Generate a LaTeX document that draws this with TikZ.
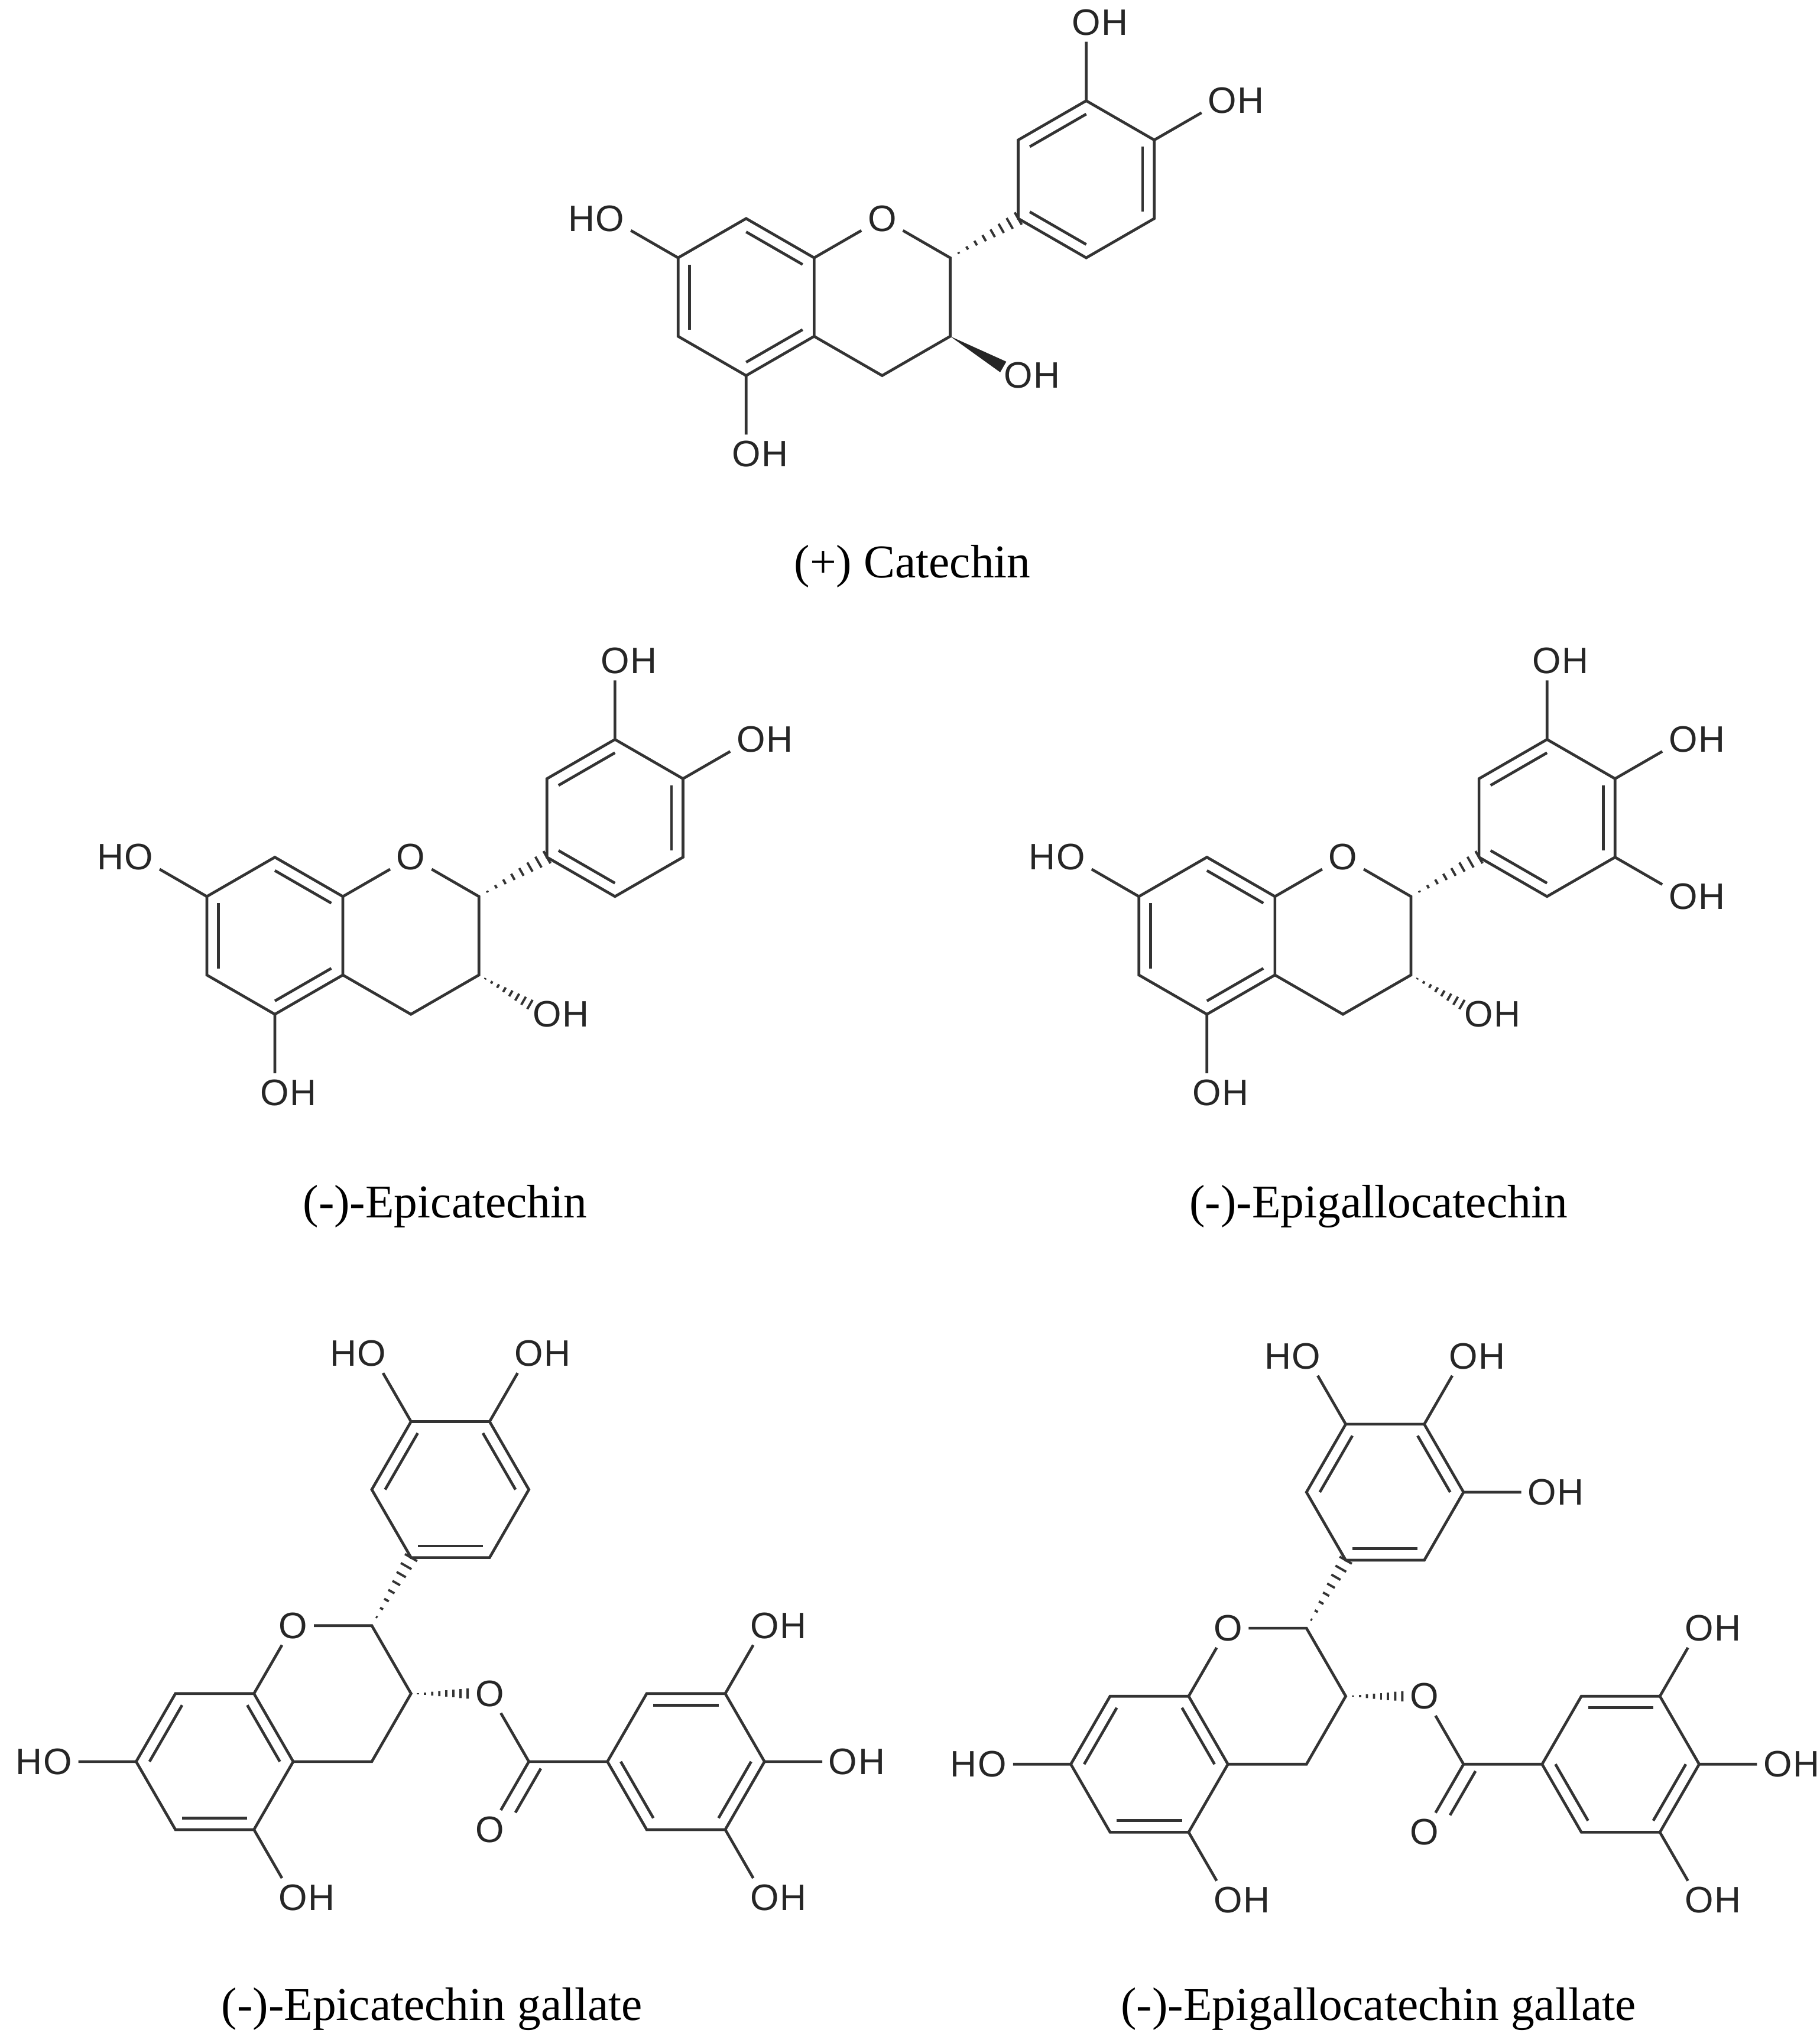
\documentclass[tikz,border=0pt]{standalone}
\usepackage{fontspec}
\setmainfont{Liberation Serif}
\newfontfamily\atomfont{Liberation Sans}
\usetikzlibrary{calc,positioning}

\tikzset{
    bond/.style={line width=0.6pt, black!80},
    atom/.style={font=\atomfont\fontsize{8}{9}\selectfont, inner sep=1.2pt, black!85},
    oh/.style={atom, label={[atom,label distance=-2.6pt]east:H}},
    ho/.style={atom, label={[atom,label distance=-2.6pt]west:H}},
    molname/.style={font=\fontsize{10.2}{12}\selectfont}
}

% inner line of a ring double bond
\newcommand\dbl[3]{\draw[bond] ($(#1)!.17!(#3)$) -- ($(#2)!.17!(#3)$);}
% hashed bond from #1 to #2, ending at fraction #3
\newcommand\hashbond[3]{%
  \foreach \k in {1,...,8}{%
    \path ($(#1)!{\k*#3/8}!(#2)$) coordinate (hp);
    \draw[bond,line width=0.5pt] ($(hp)!0.09!90:(#1)$) -- ($(hp)!0.09!-90:(#1)$);
  }}
% solid wedge from #1 to #2, ending at fraction #3
\newcommand\wedgebond[3]{%
  \path ($(#1)!#3!(#2)$) coordinate (we);
  \fill[black!85] (#1) -- ($(we)!0.1!90:(#1)$) -- ($(we)!0.1!-90:(#1)$) -- cycle;}
% flavan-3-ol skeleton, #1 = rotation
\newcommand\flavan[1]{%
  \coordinate (c7) at (0,0);
  \coordinate (c8) at ($(c7)+({30+#1}:60)$);
  \coordinate (c8a) at ($(c8)+({-30+#1}:60)$);
  \coordinate (c4a) at ($(c8a)+({-90+#1}:60)$);
  \coordinate (c5) at ($(c4a)+({-150+#1}:60)$);
  \coordinate (c6) at ($(c5)+({150+#1}:60)$);
  \node[atom] (o1) at ($(c8a)+({30+#1}:60)$) {O};
  \coordinate (c2) at ($(c8a)+({30+#1}:60)+({-30+#1}:60)$);
  \coordinate (c3) at ($(c2)+({-90+#1}:60)$);
  \coordinate (c4) at ($(c3)+({-150+#1}:60)$);
  \coordinate (b1) at ($(c2)+({30+#1}:60)$);
  \coordinate (b2) at ($(b1)+({90+#1}:60)$);
  \coordinate (b3) at ($(b2)+({30+#1}:60)$);
  \coordinate (b4) at ($(b3)+({-30+#1}:60)$);
  \coordinate (b5) at ($(b4)+({-90+#1}:60)$);
  \coordinate (b6) at ($(b5)+({-150+#1}:60)$);
  \coordinate (ca) at ($(c7)!.5!(c4a)$);
  \coordinate (cb) at ($(b1)!.5!(b4)$);
  \draw[bond] (c7) -- (c8) -- (c8a) -- (c4a) -- (c5) -- (c6) -- cycle;
  \draw[bond] (c8a) -- (o1) -- (c2) -- (c3) -- (c4) -- (c4a);
  \draw[bond] (b1) -- (b2) -- (b3) -- (b4) -- (b5) -- (b6) -- cycle;
  \hashbond{c2}{b1}{1}
  \dbl{b2}{b3}{cb}\dbl{b4}{b5}{cb}\dbl{b6}{b1}{cb}
}

\begin{document}
\begin{tikzpicture}[x=0.01cm,y=0.01cm]
\useasboundingbox (0,0) rectangle (1390,1561);

% (+) catechin
\begin{scope}[shift={(518,1364)}]
  \flavan{0}
  \dbl{c6}{c7}{ca}\dbl{c8}{c8a}{ca}\dbl{c4a}{c5}{ca}
  \node[ho] (o7) at ($(c7)+(150:60)$) {O};
  \node[oh] (o5) at ($(c5)+(-90:60)$) {O};
  \node[oh] (o3) at ($(c3)+(-30:60)$) {O};
  \node[oh] (o3b) at ($(b3)+(90:60)$) {O};
  \node[oh] (o4b) at ($(b4)+(30:60)$) {O};
  \draw[bond] (c7) -- (o7) (c5) -- (o5) (b3) -- (o3b) (b4) -- (o4b);
  \wedgebond{c3}{o3}{0.78}
\end{scope}
\node[molname] (catname) at (697,1128) {(+) Catechin};

% (-)-epicatechin
\begin{scope}[shift={(158,876)}]
  \flavan{0}
  \dbl{c6}{c7}{ca}\dbl{c8}{c8a}{ca}\dbl{c4a}{c5}{ca}
  \node[ho] (o7) at ($(c7)+(150:60)$) {O};
  \node[oh] (o5) at ($(c5)+(-90:60)$) {O};
  \node[oh] (o3) at ($(c3)+(-30:60)$) {O};
  \node[oh] (o3b) at ($(b3)+(90:60)$) {O};
  \node[oh] (o4b) at ($(b4)+(30:60)$) {O};
  \draw[bond] (c7) -- (o7) (c5) -- (o5) (b3) -- (o3b) (b4) -- (o4b);
  \hashbond{c3}{o3}{0.75}
\end{scope}
\node[molname] (ecname) at (340,639) {(-)-Epicatechin};

% (-)-epigallocatechin
\begin{scope}[shift={(870,876)}]
  \flavan{0}
  \dbl{c6}{c7}{ca}\dbl{c8}{c8a}{ca}\dbl{c4a}{c5}{ca}
  \node[ho] (o7) at ($(c7)+(150:60)$) {O};
  \node[oh] (o5) at ($(c5)+(-90:60)$) {O};
  \node[oh] (o3) at ($(c3)+(-30:60)$) {O};
  \node[oh] (o3b) at ($(b3)+(90:60)$) {O};
  \node[oh] (o4b) at ($(b4)+(30:60)$) {O};
  \node[oh] (o5b) at ($(b5)+(-30:60)$) {O};
  \draw[bond] (c7) -- (o7) (c5) -- (o5) (b3) -- (o3b) (b4) -- (o4b) (b5) -- (o5b);
  \hashbond{c3}{o3}{0.75}
\end{scope}
\node[molname] (egcname) at (1053,639) {(-)-Epigallocatechin};

% (-)-epicatechin gallate
\begin{scope}[shift={(104,215)}]
  \flavan{30}
  \dbl{c7}{c8}{ca}\dbl{c8a}{c4a}{ca}\dbl{c5}{c6}{ca}
  \node[ho] (o7) at ($(c7)+(180:60)$) {O};
  \node[oh] (o5) at ($(c5)+(-60:60)$) {O};
  \node[ho] (o3b) at ($(b3)+(120:60)$) {O};
  \node[oh] (o4b) at ($(b4)+(60:60)$) {O};
  \draw[bond] (c7) -- (o7) (c5) -- (o5) (b3) -- (o3b) (b4) -- (o4b);
  % galloyl ester
  \node[atom] (oe) at ($(c3)+(0:60)$) {O};
  \coordinate (cc) at ($(c3)+(0:60)+(-60:60)$);
  \node[atom] (oc) at ($(cc)+(-120:60)$) {O};
  \coordinate (g1) at ($(cc)+(0:60)$);
  \coordinate (g2) at ($(g1)+(60:60)$);
  \coordinate (g3) at ($(g2)+(0:60)$);
  \coordinate (g4) at ($(g3)+(-60:60)$);
  \coordinate (g5) at ($(g4)+(-120:60)$);
  \coordinate (g6) at ($(g5)+(180:60)$);
  \coordinate (cg) at ($(g1)!.5!(g4)$);
  \hashbond{c3}{oe}{0.72}
  \draw[bond] (oe) -- (cc) -- (g1) -- (g2) -- (g3) -- (g4) -- (g5) -- (g6) -- (g1);
  \draw[bond] (cc) -- (oc);
  \draw[bond,shorten >=6pt] ($(cc)!3pt!90:(oc)$) -- ($(oc)!3pt!-90:(cc)$);
  \dbl{g2}{g3}{cg}\dbl{g4}{g5}{cg}\dbl{g6}{g1}{cg}
  \node[oh] (og3) at ($(g3)+(60:60)$) {O};
  \node[oh] (og4) at ($(g4)+(0:60)$) {O};
  \node[oh] (og5) at ($(g5)+(-60:60)$) {O};
  \draw[bond] (g3) -- (og3) (g4) -- (og4) (g5) -- (og5);
\end{scope}
\node[molname] (ecgname) at (330,26) {(-)-Epicatechin gallate};

% (-)-epigallocatechin gallate
\begin{scope}[shift={(818,213)}]
  \flavan{30}
  \dbl{c7}{c8}{ca}\dbl{c8a}{c4a}{ca}\dbl{c5}{c6}{ca}
  \node[ho] (o7) at ($(c7)+(180:60)$) {O};
  \node[oh] (o5) at ($(c5)+(-60:60)$) {O};
  \node[ho] (o3b) at ($(b3)+(120:60)$) {O};
  \node[oh] (o4b) at ($(b4)+(60:60)$) {O};
  \node[oh] (o5b) at ($(b5)+(0:60)$) {O};
  \draw[bond] (c7) -- (o7) (c5) -- (o5) (b3) -- (o3b) (b4) -- (o4b) (b5) -- (o5b);
  % galloyl ester
  \node[atom] (oe) at ($(c3)+(0:60)$) {O};
  \coordinate (cc) at ($(c3)+(0:60)+(-60:60)$);
  \node[atom] (oc) at ($(cc)+(-120:60)$) {O};
  \coordinate (g1) at ($(cc)+(0:60)$);
  \coordinate (g2) at ($(g1)+(60:60)$);
  \coordinate (g3) at ($(g2)+(0:60)$);
  \coordinate (g4) at ($(g3)+(-60:60)$);
  \coordinate (g5) at ($(g4)+(-120:60)$);
  \coordinate (g6) at ($(g5)+(180:60)$);
  \coordinate (cg) at ($(g1)!.5!(g4)$);
  \hashbond{c3}{oe}{0.72}
  \draw[bond] (oe) -- (cc) -- (g1) -- (g2) -- (g3) -- (g4) -- (g5) -- (g6) -- (g1);
  \draw[bond] (cc) -- (oc);
  \draw[bond,shorten >=6pt] ($(cc)!3pt!90:(oc)$) -- ($(oc)!3pt!-90:(cc)$);
  \dbl{g2}{g3}{cg}\dbl{g4}{g5}{cg}\dbl{g6}{g1}{cg}
  \node[oh] (og3) at ($(g3)+(60:60)$) {O};
  \node[oh] (og4) at ($(g4)+(0:60)$) {O};
  \node[oh] (og5) at ($(g5)+(-60:60)$) {O};
  \draw[bond] (g3) -- (og3) (g4) -- (og4) (g5) -- (og5);
\end{scope}
\node[molname] (egcgname) at (1053,26) {(-)-Epigallocatechin gallate};
\end{tikzpicture}
\end{document}
